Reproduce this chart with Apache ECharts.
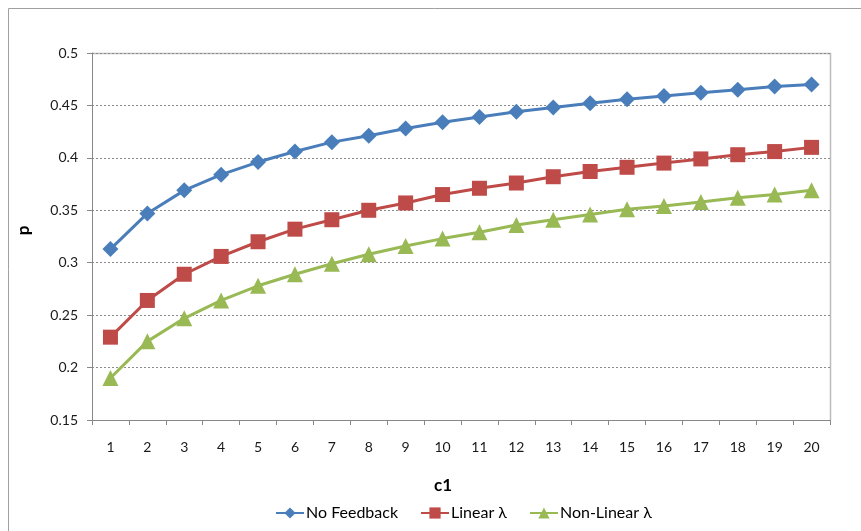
<!DOCTYPE html>
<html>
<head>
<meta charset="utf-8">
<script src="https://cdn.jsdelivr.net/npm/echarts@6/dist/echarts.min.js"></script>
<style>html,body{margin:0;padding:0;background:#fff;}#c{width:861px;height:531px;}</style>
</head>
<body>
<div id="c"></div>
<script>
var categories = ['1','2','3','4','5','6','7','8','9','10','11','12','13','14','15','16','17','18','19','20'];
var noFeedback = [0.313,0.347,0.369,0.384,0.396,0.406,0.415,0.421,0.428,0.434,0.439,0.444,0.448,0.452,0.456,0.459,0.462,0.465,0.468,0.470];
var linearL = [0.229,0.264,0.289,0.306,0.320,0.332,0.341,0.350,0.357,0.365,0.371,0.376,0.382,0.387,0.391,0.395,0.399,0.403,0.406,0.410];
var nonLinearL = [0.190,0.225,0.247,0.264,0.278,0.289,0.299,0.308,0.316,0.323,0.329,0.336,0.341,0.346,0.351,0.354,0.358,0.362,0.365,0.369];
var yTicks = ['0.15','0.2','0.25','0.3','0.35','0.4','0.45','0.5'];

var font = 'Lato, "Open Sans", sans-serif';
var chart = echarts.init(document.getElementById('c'), null, {renderer:'canvas'});
function ser(name, data, color, symbol, size){
  return {name:name, type:'line', data:data, symbol:symbol, symbolSize:size, showAllSymbol:true,
    lineStyle:{color:color, width:3}, itemStyle:{color:color}, emphasis:{disabled:true}};
}
chart.setOption({
  animation:false,
  backgroundColor:'#fff',
  graphic:[
    {type:'polyline', shape:{points:[[8.5,531],[8.5,8.5],[861,8.5]]}, style:{stroke:'#a0a0a0', lineWidth:1, fill:null}, silent:true},
    {type:'polyline', shape:{points:[[92,53.5],[830.5,53.5],[830.5,420]]}, style:{stroke:'#bcbcbc', lineWidth:1.5, fill:null}, silent:true, z:0}
  ],
  grid:{left:92, right:31, top:53, bottom:111},
  legend:{bottom:5, left:270, itemGap:22, itemWidth:28, itemHeight:14,
    textStyle:{fontFamily:font, fontSize:16, color:'#000', padding:[0,0,0,-3]},
    data:[{name:'No Feedback'},{name:'Linear λ'},{name:'Non-Linear λ'}]},
  xAxis:{type:'category', data:categories, boundaryGap:true, name:'c1', nameLocation:'middle', nameGap:57,
    nameTextStyle:{fontFamily:font, fontSize:17, fontWeight:'bold', color:'#000', padding:[0,36,0,0]},
    axisLine:{lineStyle:{color:'#888', width:1}},
    axisTick:{show:true, length:5, interval:0, alignWithLabel:false, lineStyle:{color:'#888'}},
    axisLabel:{interval:0, margin:20, fontFamily:font, fontSize:14, color:'#1a1a1a'}},
  yAxis:{type:'value', min:0.15, max:0.5, interval:0.05, name:'p', nameLocation:'middle', nameGap:60, nameRotate:90,
    nameTextStyle:{fontFamily:font, fontSize:17, fontWeight:'bold', color:'#000', padding:[0,0,0,12]},
    axisLine:{show:true, lineStyle:{color:'#888', width:1}},
    axisTick:{show:true, length:5, lineStyle:{color:'#888'}},
    axisLabel:{margin:14, fontFamily:font, fontSize:14, color:'#1a1a1a',
      formatter:function(v){ return String(Math.round(v*100)/100); }},
    splitLine:{show:true, lineStyle:{color:'#8a8a8a', type:[2,2], width:1}}},
  series:[
    ser('No Feedback', noFeedback, '#4a7ebb', 'diamond', 16),
    ser('Linear λ', linearL, '#be4b48', 'rect', 15),
    ser('Non-Linear λ', nonLinearL, '#98b954', 'triangle', 16)
  ]
});
</script>
</body>
</html>
